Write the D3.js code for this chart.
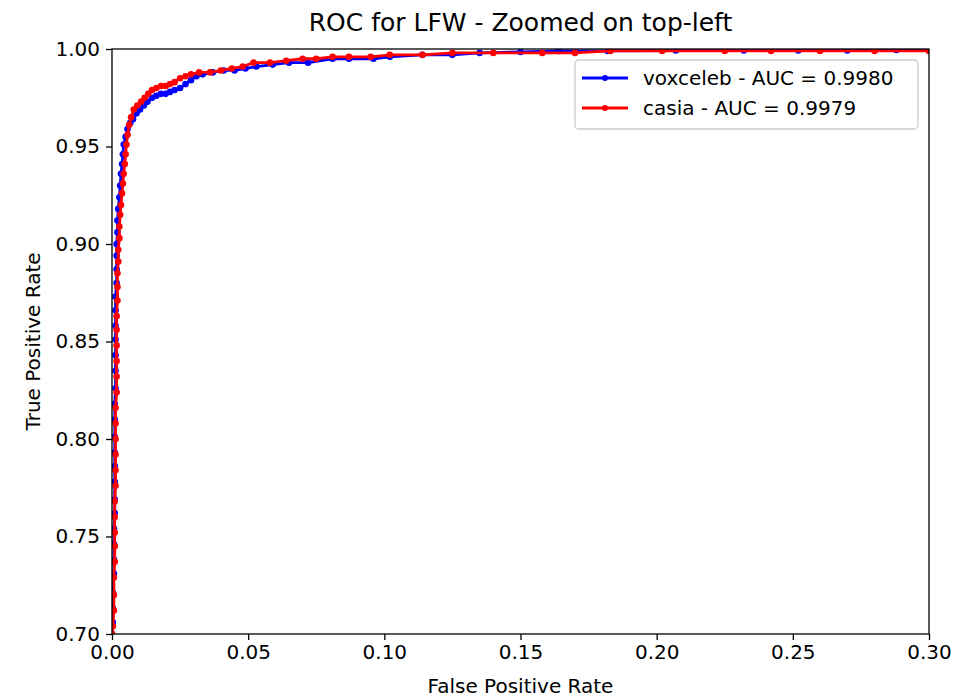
<!DOCTYPE html>
<html>
<head>
<meta charset="utf-8">
<script src="https://cdn.jsdelivr.net/npm/d3@7"></script>
<style>
  body { margin: 0; background: #fff; }
  svg text { font-family: "DejaVu Sans", sans-serif; fill: #000; }
</style>
</head>
<body>
<svg id="roc" width="954" height="698"></svg>
<script>
// ROC points [false positive rate, true positive rate]
const voxceleb = [
    [0.0000, 0.700], [0.0003, 0.706], [0.0003, 0.713], [0.0003, 0.721], [0.0007, 0.731],
    [0.0007, 0.738], [0.0007, 0.746], [0.0007, 0.754], [0.0010, 0.762], [0.0010, 0.769],
    [0.0010, 0.778], [0.0010, 0.786], [0.0010, 0.793], [0.0010, 0.801], [0.0010, 0.810],
    [0.0010, 0.818], [0.0013, 0.826], [0.0013, 0.835], [0.0013, 0.843], [0.0013, 0.851],
    [0.0013, 0.858], [0.0013, 0.866], [0.0013, 0.873], [0.0017, 0.880], [0.0017, 0.887],
    [0.0017, 0.894], [0.0017, 0.900], [0.0020, 0.906], [0.0020, 0.912], [0.0023, 0.918],
    [0.0027, 0.924], [0.0030, 0.930], [0.0033, 0.936], [0.0037, 0.941], [0.0040, 0.946],
    [0.0043, 0.951], [0.0050, 0.955], [0.0057, 0.959], [0.0067, 0.962], [0.0077, 0.964],
    [0.0090, 0.967], [0.0103, 0.969], [0.0117, 0.971], [0.0130, 0.973], [0.0147, 0.975],
    [0.0163, 0.976], [0.0180, 0.977], [0.0197, 0.977], [0.0213, 0.978], [0.0230, 0.979],
    [0.0250, 0.980], [0.0270, 0.982], [0.0290, 0.984], [0.0310, 0.986], [0.0333, 0.987],
    [0.0370, 0.988], [0.0410, 0.989], [0.0450, 0.989], [0.0490, 0.990], [0.0530, 0.991],
    [0.0590, 0.992], [0.0650, 0.993], [0.0720, 0.993], [0.0810, 0.995], [0.0870, 0.995],
    [0.0960, 0.995], [0.1020, 0.996], [0.1140, 0.997], [0.1250, 0.997], [0.1350, 0.998],
    [0.1500, 0.9985], [0.1640, 0.999], [0.1820, 0.999], [0.2070, 0.9992], [0.2320, 0.9992],
    [0.2520, 0.9992], [0.2700, 0.9992], [0.2880, 0.9995], [0.3000, 0.9995]
];

const casia = [
    [0.0000, 0.700], [0.0003, 0.704], [0.0007, 0.712], [0.0007, 0.720], [0.0007, 0.729],
    [0.0010, 0.737], [0.0010, 0.745], [0.0010, 0.752], [0.0010, 0.760], [0.0010, 0.768],
    [0.0013, 0.776], [0.0013, 0.784], [0.0013, 0.792], [0.0013, 0.800], [0.0013, 0.808],
    [0.0013, 0.816], [0.0017, 0.824], [0.0017, 0.832], [0.0017, 0.840], [0.0017, 0.848],
    [0.0017, 0.856], [0.0017, 0.863], [0.0020, 0.871], [0.0020, 0.878], [0.0020, 0.885],
    [0.0023, 0.891], [0.0023, 0.897], [0.0027, 0.903], [0.0027, 0.909], [0.0030, 0.915],
    [0.0033, 0.920], [0.0037, 0.926], [0.0040, 0.931], [0.0043, 0.936], [0.0047, 0.941],
    [0.0050, 0.946], [0.0053, 0.951], [0.0057, 0.956], [0.0063, 0.961], [0.0070, 0.965],
    [0.0080, 0.969], [0.0093, 0.971], [0.0107, 0.973], [0.0120, 0.975], [0.0133, 0.977],
    [0.0147, 0.979], [0.0163, 0.980], [0.0180, 0.981], [0.0197, 0.981], [0.0213, 0.982],
    [0.0230, 0.983], [0.0250, 0.985], [0.0270, 0.986], [0.0290, 0.987], [0.0320, 0.988],
    [0.0360, 0.988], [0.0400, 0.989], [0.0440, 0.990], [0.0480, 0.991], [0.0520, 0.993],
    [0.0580, 0.993], [0.0640, 0.994], [0.0700, 0.995], [0.0750, 0.995], [0.0810, 0.996],
    [0.0870, 0.996], [0.0950, 0.996], [0.1020, 0.997], [0.1140, 0.997], [0.1250, 0.998],
    [0.1400, 0.998], [0.1580, 0.998], [0.1700, 0.998], [0.1830, 0.999], [0.2020, 0.999],
    [0.2250, 0.999], [0.2420, 0.999], [0.2600, 0.999], [0.2800, 0.999], [0.3000, 0.999]
];

const seriesNames = ["voxceleb - AUC = 0.9980", "casia - AUC = 0.9979"];
const seriesColors = ["#0000ff", "#ff0000"];
const xTicks = [0, 0.05, 0.10, 0.15, 0.20, 0.25, 0.30];
const yTicks = [0.70, 0.75, 0.80, 0.85, 0.90, 0.95, 1.00];

const svg = d3.select("svg#roc");
const margin = { top: 49, right: 25, bottom: 64, left: 112 };
const width = +svg.attr("width") - margin.left - margin.right;
const height = +svg.attr("height") - margin.top - margin.bottom;

const x = d3.scaleLinear().domain([0, 0.30]).range([0, width]);
const y = d3.scaleLinear().domain([0.70, 1.00]).range([height, 0]);

const g = svg.append("g").attr("transform", `translate(${margin.left},${margin.top})`);

g.append("clipPath").attr("id", "plot-clip")
    .append("rect").attr("width", width).attr("height", height);

// curves
const line = d3.line().x(d => x(d[0])).y(d => y(d[1]));
const curves = g.append("g").attr("clip-path", "url(#plot-clip)");
[voxceleb, casia].forEach((data, i) => {
    const s = curves.append("g");
    s.append("path")
        .datum(data)
        .attr("d", line)
        .attr("fill", "none")
        .attr("stroke", seriesColors[i])
        .attr("stroke-width", 2.8)
        .attr("stroke-linejoin", "round");
    s.selectAll("circle")
        .data(data)
        .enter()
        .append("circle")
        .attr("cx", d => x(d[0]))
        .attr("cy", d => y(d[1]))
        .attr("r", 3.3)
        .attr("fill", seriesColors[i]);
});

// axes
const xAxis = g.append("g")
    .attr("transform", `translate(0,${height})`)
    .call(d3.axisBottom(x).tickValues(xTicks).tickFormat(d3.format(".2f")).tickSize(6).tickPadding(5));
const yAxis = g.append("g")
    .call(d3.axisLeft(y).tickValues(yTicks).tickFormat(d3.format(".2f")).tickSize(6).tickPadding(6));
[xAxis, yAxis].forEach(a => {
    a.select(".domain").remove();
    a.selectAll("line").attr("stroke", "#000").attr("stroke-width", 1.3);
    a.selectAll("text").attr("font-size", 20).attr("font-family", "DejaVu Sans").attr("fill", "#000");
});

// frame
g.append("rect")
    .attr("width", width).attr("height", height)
    .attr("fill", "none").attr("stroke", "#000").attr("stroke-width", 1.3);

// title and axis labels
svg.append("text")
    .attr("x", margin.left + width / 2).attr("y", 31)
    .attr("text-anchor", "middle").attr("font-size", 25)
    .text("ROC for LFW - Zoomed on top-left");
svg.append("text")
    .attr("x", margin.left + width / 2).attr("y", 693)
    .attr("text-anchor", "middle").attr("font-size", 20)
    .text("False Positive Rate");
svg.append("text")
    .attr("transform", `translate(40,${margin.top + height / 2}) rotate(-90)`)
    .attr("text-anchor", "middle").attr("font-size", 20)
    .text("True Positive Rate");

// legend
const legend = svg.append("g").attr("transform", "translate(575,60)");
legend.append("rect")
    .attr("width", 343).attr("height", 69).attr("rx", 4)
    .attr("fill", "#fff").attr("fill-opacity", 0.8)
    .attr("stroke", "#cccccc").attr("stroke-width", 1.3);
seriesNames.forEach((name, i) => {
    const row = legend.append("g").attr("transform", `translate(0,${18 + i * 30})`);
    row.append("line")
        .attr("x1", 7).attr("x2", 53)
        .attr("stroke", seriesColors[i]).attr("stroke-width", 2.8);
    row.append("circle").attr("cx", 30).attr("r", 3).attr("fill", seriesColors[i]);
    row.append("text")
        .attr("x", 68).attr("y", 7)
        .attr("font-size", 20)
        .text(name);
});
</script>
</body>
</html>
